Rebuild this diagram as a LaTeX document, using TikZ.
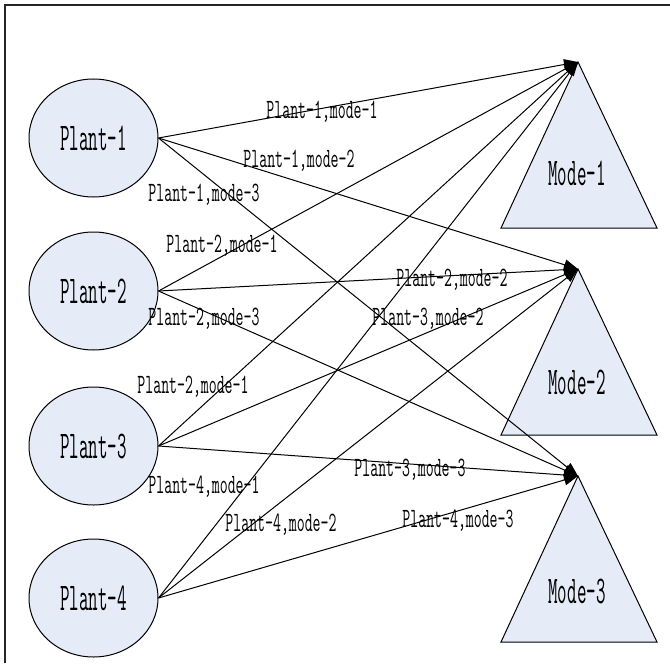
\documentclass[tikz,border=0pt]{standalone}
\usepackage{fontspec}
\newfontfamily\nametype{Latin Modern Mono}[FakeStretch=0.47]
\newfontfamily\labeltype{Latin Modern Mono}[FakeStretch=0.55]
\usetikzlibrary{arrows.meta,shapes.geometric}
\definecolor{boxfill}{RGB}{229,235,247}
\begin{document}
\begin{tikzpicture}[x=0.75pt,y=-0.75pt,
  plant/.style={ellipse,draw,line width=0.75pt,fill=boxfill,inner sep=0pt,
    minimum width=96.75pt,minimum height=88.5pt,
    font=\nametype\fontsize{29.5pt}{30pt}\selectfont},
  modetri/.style={draw,line width=0.75pt,fill=boxfill},
  modetext/.style={inner sep=0pt,font=\nametype\fontsize{29.5pt}{30pt}\selectfont},
  link/.style={line width=0.75pt,-{Triangle[length=10.5pt,width=8pt]}},
  lbl/.style={inner sep=0pt,font=\labeltype\fontsize{21pt}{22pt}\selectfont}]
\useasboundingbox (0,0) rectangle (670,663);
% frame on top and left
\draw[line width=1.5pt,black!85] (5,663) -- (5,5) -- (670,5);

% plants
\node[plant] (p1) at (93.5,138) {Plant-1};
\node[plant] (p2) at (93.5,291) {Plant-2};
\node[plant] (p3) at (93.5,446) {Plant-3};
\node[plant] (p4) at (93.5,598) {Plant-4};

% modes (triangles) with their apexes
\coordinate (m1) at (578,62);
\coordinate (m2) at (578,269);
\coordinate (m3) at (578,476);
\draw[modetri] (m1) -- (501,228) -- (657,228) -- cycle;
\draw[modetri] (m2) -- (501,435) -- (657,435) -- cycle;
\draw[modetri] (m3) -- (501,642) -- (657,642) -- cycle;
\node[modetext] (t1) at (577,173) {Mode-1};
\node[modetext] (t2) at (577,382) {Mode-2};
\node[modetext] (t3) at (577,591) {Mode-3};

% connections
\foreach \p in {1,...,4}{
  \foreach \m in {1,2,3}{
    \draw[link] (p\p.east) -- (m\m);
  }
}

% labels
\node[lbl] (l11) at (322,112) {Plant-1,mode-1};
\node[lbl] (l12) at (299,161) {Plant-1,mode-2};
\node[lbl] (l13) at (204,195) {Plant-1,mode-3};
\node[lbl] (l21) at (222,246) {Plant-2,mode-1};
\node[lbl] (l22) at (452,280) {Plant-2,mode-2};
\node[lbl] (l23) at (204,319) {Plant-2,mode-3};
\node[lbl] (l32) at (428,319) {Plant-3,mode-2};
\node[lbl] (l31) at (193,387) {Plant-2,mode-1};
\node[lbl] (l33) at (410,470) {Plant-3,mode-3};
\node[lbl] (l41) at (204,487) {Plant-4,mode-1};
\node[lbl] (l42) at (281,525) {Plant-4,mode-2};
\node[lbl] (l43) at (458,521) {Plant-4,mode-3};
\end{tikzpicture}
\end{document}
